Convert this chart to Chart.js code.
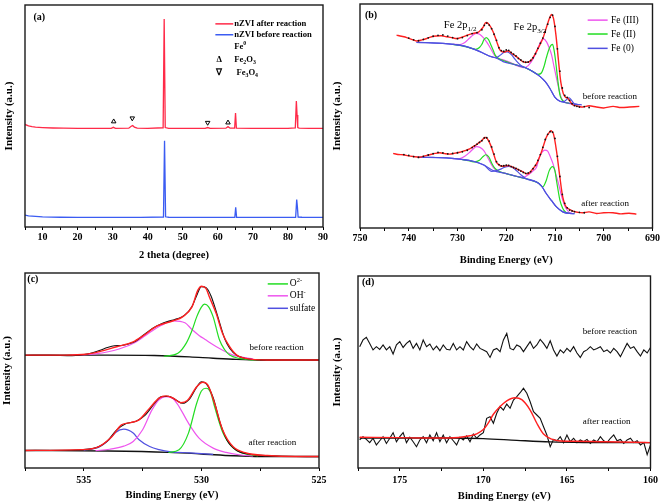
<!DOCTYPE html>
<html><head><meta charset="utf-8">
<script src="https://cdn.jsdelivr.net/npm/chart.js@4.4.1/dist/chart.umd.min.js"></script>
<style>
html,body{margin:0;padding:0;background:#fff;}
#wrap{position:relative;width:661px;height:503px;overflow:hidden;background:#fff;}
#wrap canvas{position:absolute;}
</style></head><body>
<div id="wrap">
<canvas id="ca" width="330" height="266" style="left:0;top:0"></canvas>
<canvas id="cb" width="331" height="270" style="left:330px;top:0"></canvas>
<canvas id="cc" width="330" height="253" style="left:0;top:250px"></canvas>
<canvas id="cd" width="331" height="253" style="left:330px;top:250px"></canvas>
</div>
<script>
// ---------- (a) XRD ----------
const xrdAfterTheta = [5,6,7,8,10,13,16,20,25,29.6,30.2,30.8,34.6,35.3,35.7,36.2,37,40,44.4,44.7,45.0,46,50,56.4,57.1,57.8,62.3,62.9,63.5,64.8,65.05,65.3,70,75,80,82.1,82.4,82.6,82.8,83.2,86,90];
const xrdAfterI = [46.2,45.6,45.2,45.0,44.8,44.6,44.5,44.4,44.4,44.4,44.9,44.4,44.5,45.4,45.7,45.0,44.5,44.4,44.7,93.7,44.8,44.4,44.4,44.4,44.8,44.4,44.5,45.2,44.5,44.5,51.3,44.5,44.4,44.4,44.4,44.6,56.7,50.5,44.8,44.5,44.4,44.4];
const xrdBeforeTheta = [5,6,8,10,15,20,30,38,44.5,44.8,45.1,46,55,64.85,65.1,65.35,70,82.2,82.5,82.7,82.9,84,90];
const xrdBeforeI = [5.4,5.0,4.8,4.6,4.4,4.35,4.35,4.3,4.5,38.8,4.6,4.4,4.35,4.4,8.9,4.4,4.35,4.4,12.4,9.0,4.5,4.4,4.3];
const xrdMarkTheta = [30.3,35.6,57.1,62.9];
const xrdMarkI = [47.5,49.0,47.0,47.0];
const xrdMarkPhase = ['Fe2O3','Fe3O4','Fe3O4','Fe2O3'];
const xrdTickLabels = [10,20,30,40,50,60,70,80,90];

// ---------- (b) Fe 2p ----------
const feBefFitE = [742.5,741.5,740.4,739.4,738.4,737.3,736.3,735.3,734.3,733.3,732.3,731.2,730.2,729.5,728.8,727.8,726.8,725.8,725.2,724.7,724.2,723.5,722.7,722.0,721.3,720.6,719.6,718.9,717.9,716.6,715.5,714.8,713.8,712.5,711.4,710.75,710.3,709.8,709.3,708.8,708.3,707.8,707.4,707.0,706.3,705.3,704.3,703.0,701.5,700.0,698.1,696.5,694.7,692.7];
const feBefFitI = [86.1,85.6,85.0,84.2,83.5,84.0,84.6,85.4,85.7,85.8,85.4,85.0,84.6,84.9,85.4,86.2,86.9,87.3,88.5,89.8,91.7,90.8,87.6,83.5,79.5,78.5,79.1,78.0,76.5,74.3,74.0,75.1,78.8,84.6,92.0,95.3,93.5,86.0,75.0,65.0,60.0,58.3,58.0,56.8,54.9,54.4,54.0,54.6,54.0,53.6,54.3,53.8,54.0,54.3];
const feBefDataE = [740,739,738,737,736,735,734,733,732,731,730,729,728,727,726,725,724.5,724,723.5,723,722.5,722,721.5,721,720.5,720,719.5,719,718.5,718,717.5,717,716.5,716,715.5,715,714.5,714,713.5,713,712.5,712,711.5,711,710.5,710,709.5,709,708.5,708,707.5,707,706.5,706,705.5,705,704,703];
const feBefDataI = [84.8,84.0,83.6,84.2,84.9,85.6,86.0,86.2,85.7,85.0,84.5,85.0,85.9,86.8,87.2,88.5,90.5,91.5,90.6,89.0,86.5,83.8,80.5,79.2,78.9,79.5,79.3,78.4,77.6,76.8,75.7,75.0,74.3,74.0,74.1,74.8,76.0,77.8,80.2,82.5,84.8,87.5,91.0,94.0,95.0,90.0,80.0,70.0,62.5,59.2,58.3,57.0,55.5,54.6,54.3,54.0,54.2,53.8];
const feBefBgE = [738.4,736,733,730.9,729,727.5,726,724.7,723.5,722,720.65,718,715.9,714.5,713.1,712,711.1,710,709,707.7,705.6,704.5];
const feBefBgI = [82.9,82.7,82.4,82.0,81.4,80.5,79.3,78.0,76.8,75.8,74.3,72.8,71.4,69.8,67.7,65.3,62.5,58.3,56.6,55.9,55.2,55.0];
const feBefFe0E = [738.4,733,729,726,723.5,722.2,721.2,720.4,719.8,719.0,718.0,717.0,715.9,714.5,713.1,712,711.1,710,709,708.2,707.6,707.1,706.6,706.0,705.0];
const feBefFe0I = [82.9,82.4,81.4,79.3,76.8,76.0,77.2,78.5,78.6,77.5,74.8,72.6,71.4,69.8,67.7,65.3,62.5,58.3,56.6,56.4,57.4,58.1,57.0,55.4,55.1];
const feBefFe3E = [731,729.5,728.5,727.6,726.8,726.1,725.4,724.7,724,723.3,722.6,722,721,719,717.5,716.5,715.5,714.5,713.8,713.1,712.4,711.7,711.2,710.7,710.2,709.7,709.2,708.7,708,707,706];
const feBefFe3I = [82.0,81.9,82.8,84.6,86.2,86.9,86.4,85.0,83.0,80.5,77.8,76.0,75.3,73.8,72.2,71.6,72.5,75.5,78.8,82.4,84.4,83.0,80.5,77.3,72.0,66.9,62.0,58.1,56.2,55.5,55.2];
const feBefFe2E = [731,729,727.5,726.3,725.5,725,724.6,724.1,723.6,723.1,722.7,722.3,721.8,720,718,716,714.5,713.5,712.8,712.2,711.8,711.2,710.8,710.5,710.2,709.9,709.4,709,708.6,708,707];
const feBefFe2I = [82.0,81.3,80.4,79.8,80.6,82.0,84.0,85.0,84.0,81.5,79.5,77.3,76.0,74.3,72.8,71.4,69.8,68.6,69.2,72.5,75.8,80.0,81.6,82.0,79.5,75.0,65.5,59.5,57.3,56.1,55.7];

const feAftFitE = [743.2,742.2,741.1,740.1,739.1,737.7,736.7,735.7,734.6,733.6,732.6,731.6,730.5,729.5,728.5,727.5,726.8,726.1,725.6,725.1,724.7,724.4,724.0,723.7,723.2,722.8,722.4,722.0,721.5,721.0,720.3,719.6,718.6,717.9,717.2,716.5,715.9,715.3,714.8,713.8,712.8,711.8,711.1,710.75,710.3,709.7,709.0,708.4,707.7,706.3,705.3,704.3,703.0,701.5,700.0,698.1,696.5,694.8,693.3];
const feAftFitI = [33.3,32.8,32.7,32.2,31.9,31.6,32.2,32.7,33.3,33.6,33.2,33.0,33.4,33.8,34.5,35.3,36.3,37.2,38.1,38.9,39.8,40.4,40.2,39.2,37.0,34.5,31.8,29.3,28.2,27.6,27.7,27.9,27.1,26.5,25.7,25.0,24.2,24.5,25.7,28.6,33.8,40.4,42.9,43.4,41.9,34.5,22.7,13.8,9.4,7.5,7.0,6.8,7.2,6.5,6.8,6.8,6.3,6.6,6.2];
const feAftDataE = [741,740,739,738,737,736,735,734,733,732,731,730,729,728,727,726.5,726,725.5,725,724.5,724,723.5,723,722.5,722,721.5,721,720.5,720,719.5,719,718.5,718,717.5,717,716.5,716,715.5,715,714.5,714,713.5,713,712.5,712,711.5,711,710.5,710,709.5,709,708.5,708,707.5,707,706.5,706,705,704];
const feAftDataI = [32.8,32.4,31.9,31.5,32.0,32.6,33.2,33.8,33.5,33.1,33.3,33.6,34.0,34.7,35.9,36.7,37.4,38.2,39.0,40.2,40.3,38.8,36.2,33.0,29.6,28.3,27.7,27.8,28.1,28.0,27.4,27.0,26.6,26.0,25.4,24.8,24.4,24.6,25.2,26.5,28.0,30.2,32.8,36.0,39.5,41.8,43.0,42.8,40.0,32.0,23.0,15.0,11.0,9.0,8.0,7.6,7.3,7.0,6.8];
const feAftBgE = [738.2,735,732.3,729.5,726.8,724.5,722.7,720,717.9,715.9,713.8,712.8,711.8,710.7,709.7,708.4,707.1,706];
const feAftBgI = [31.6,31.5,31.3,30.7,29.8,28.0,25.7,24.3,23.1,22.0,20.5,18.8,15.4,12.2,9.4,7.2,6.5,6.4];
const feAftFe0E = [738.2,732.3,726.8,724.5,723,722,721,720.3,719.5,718.7,718,717,715.9,713.8,712.8,711.8,710.7,709.7,708.4,707.1,706];
const feAftFe0I = [31.6,31.3,29.8,28.0,25.3,25.6,26.4,27.2,27.5,27.0,25.8,23.8,22.0,20.5,18.8,15.4,12.2,9.4,7.2,6.5,6.4];
const feAftFe3E = [731,729.5,728.5,727.5,726.8,726.1,725.4,724.6,723.8,723,722.3,721.5,720,718,716.5,715.2,714.5,713.8,713.2,712.6,712.1,711.5,711,710.4,709.9,709.3,708.8,708.4,707.8,707.2,706.5];
const feAftFe3I = [30.9,31.0,32.0,33.8,35.3,36.3,36.0,34.5,31.5,28.2,26.2,25.2,24.3,23.1,22.6,24.2,25.5,27.1,31.6,34.0,34.8,34.3,32.0,28.6,24.5,20.0,15.5,12.4,9.0,7.2,6.5];
const feAftFe2E = [729,727.5,726.5,725.5,724.8,724.2,723.6,723,722.4,721.6,720,718,716,714.5,713.5,712.5,711.8,711.2,710.5,710,709.7,709.3,709,708.4,707.8,707];
const feAftFe2I = [30.5,29.9,29.5,30.2,31.8,32.7,31.8,29.0,26.8,25.4,24.3,23.1,22.0,21.0,20.2,18.4,21.2,25.5,27.4,25.5,21.2,16.0,12.4,8.7,7.0,6.5];

// ---------- (c) O 1s ----------
const oBefFitE = [537.5,536.5,535.8,534.9,534.36,533.6,532.9,532.5,531.9,531.2,530.8,530.4,530.15,529.99,529.8,529.66,529.37,529.1,528.8,528.5,528.1,527.2,526,525];
const oBefFitI = [57.9,57.9,57.9,58.3,59.6,62.2,64.7,67.6,72.7,75.5,77.5,82.6,91.2,93.2,92.0,87.7,79.2,69.0,62.2,57.9,56.2,55.4,55.4,55.4];
const oBefDataE = [537.5,536.5,535.5,534.8,534.3,534.0,533.7,533.4,533.1,532.8,532.5,532.2,531.9,531.6,531.3,531.0,530.7,530.4,530.2,530.0,529.8,529.6,529.4,529.2,529.0,528.8,528.5,528.0,527.0,526.0,525.0];
const oBefDataI = [57.7,57.8,57.6,58.6,60.4,61.8,62.7,62.8,63.6,65.0,67.8,70.6,72.8,74.5,75.6,76.6,78.5,82.8,88.5,93.0,92.5,88.5,81.5,73.5,66.0,61.5,57.8,55.9,55.3,55.4,55.3];
const oBefBgE = [537.5,534,532,530.5,529.5,528.5,527.5,525];
const oBefBgI = [57.9,57.9,57.7,57.0,56.3,55.7,55.4,55.4];
const oBefO2E = [531.6,531,530.65,530.4,530.2,530.0,529.87,529.7,529.5,529.23,529.0,528.8,528.4,528,527.5];
const oBefO2I = [57.3,58.8,63.9,70.5,77.5,82.5,84.0,82.8,77.5,65.6,60.5,57.9,56.2,55.6,55.4];
const oBefOHE = [535.5,534.5,533.5,532.8,532.2,531.7,531.2,530.7,530.4,530.1,529.8,529.5,529.23,528.95,528.66,528.3,527.8];
const oBefOHI = [57.9,58.5,61.0,64.5,69.5,73.2,75.5,74.5,71.0,68.0,65.6,63.2,61.3,59.5,57.9,56.9,55.9];

const oAftFitE = [537.5,535.07,534.36,533.8,533.4,533.0,532.65,532.2,531.8,531.5,531.2,530.87,530.6,530.2,529.94,529.73,529.44,529.1,528.66,528.1,527.2,526,525];
const oAftFitI = [9.0,9.4,11.0,16.2,22.1,23.3,24.7,30.7,35.8,37.0,35.8,33.5,34.6,41.7,44.0,42.6,33.2,19.6,11.0,7.7,6.4,5.9,5.9];
const oAftDataE = [537.5,536,535,534.4,534,533.6,533.2,532.8,532.4,532,531.7,531.4,531.1,530.8,530.5,530.2,530.0,529.8,529.5,529.2,528.9,528.5,528,527,526,525];
const oAftDataI = [9.0,9.1,9.5,10.8,13.8,19.5,22.8,23.8,27.0,33.0,36.6,36.8,35.0,33.2,35.5,41.5,44.2,43.3,36.0,23.0,14.0,9.0,7.2,6.3,5.9,5.8];
const oAftBgE = [537.5,534,531.4,530,528.66,527.5,525];
const oAftBgI = [9.0,8.7,8.0,7.2,6.3,5.9,5.9];
const oAftSO4E = [535,534.36,533.93,533.65,533.3,532.9,532.65,532.2,531.8,531.3,530.5,529.5];
const oAftSO4I = [9.2,10.7,14.5,18.2,19.9,17.9,14.5,11.0,9.4,8.3,7.8,7.0];
const oAftOHE = [534.5,533.9,533.3,532.9,532.5,532.1,531.8,531.5,531.2,530.95,530.55,530.1,529.5,528.95,528.4,527.8];
const oAftOHI = [8.9,9.6,11.2,13.6,19.6,29.8,35.0,36.6,35.5,31.5,23.0,15.3,10.2,8.0,6.8,6.2];
const oAftO2E = [531.4,530.95,530.55,530.2,530.0,529.8,529.6,529.44,529.1,528.66,528.2,527.6];
const oAftO2I = [8.0,9.4,17.9,33.2,39.5,40.9,38.5,31.5,18.5,10.5,7.5,6.2];

// ---------- (d) S 2p ----------
const sEnergy = [177.4,177.2,177.0,176.8,176.6,176.4,176.2,176.0,175.8,175.6,175.4,175.2,175.0,174.8,174.6,174.4,174.2,174.0,173.8,173.6,173.4,173.2,173.0,172.8,172.6,172.4,172.2,172.0,171.8,171.6,171.4,171.2,171.0,170.8,170.6,170.4,170.2,170.0,169.8,169.6,169.4,169.2,169.0,168.8,168.6,168.4,168.2,168.0,167.8,167.6,167.4,167.2,167.0,166.8,166.6,166.4,166.2,166.0,165.8,165.6,165.4,165.2,165.0,164.8,164.6,164.4,164.2,164.0,163.8,163.6,163.4,163.2,163.0,162.8,162.6,162.4,162.2,162.0,161.8,161.6,161.4,161.2,161.0,160.8,160.6,160.4,160.2,160.0];
const sBeforeI = [63.2,66.7,68.1,64.9,61.5,63.2,61.8,64.1,61.5,63.2,59.4,64.1,65.8,62.8,64.9,66.3,62.3,64.9,61.5,66.7,63.2,64.6,61.5,63.5,61.1,64.1,61.8,61.5,64.9,61.5,63.2,61.5,65.8,63.2,61.5,64.6,62.3,61.5,60.6,57.6,61.5,62.3,60.6,66.7,70.1,62.3,61.5,64.1,63.2,60.6,63.2,65.8,62.3,64.1,67.0,64.9,62.3,66.3,61.5,58.3,61.5,59.9,62.3,60.6,63.2,59.9,57.6,60.6,61.5,63.2,61.5,62.3,63.2,60.6,61.5,59.9,62.3,60.6,58.0,61.5,64.9,62.3,63.2,60.6,58.3,61.5,59.9,62.8];
const sAfterI = [14.6,16.3,14.9,13.2,15.5,12.0,14.2,16.3,12.8,15.5,18.4,13.7,16.3,18.4,13.2,16.0,13.7,11.1,14.6,16.3,13.2,17.2,14.2,18.4,13.7,17.2,13.2,16.3,14.2,12.0,16.0,14.6,16.7,13.7,17.7,15.5,17.2,18.4,25.9,26.7,23.3,28.5,32.0,30.2,33.3,31.1,35.4,37.2,39.2,41.5,38.9,34.5,29.3,27.6,25.9,21.5,17.2,11.1,14.9,14.2,16.3,13.2,17.2,13.7,15.5,13.2,14.6,13.7,14.9,12.8,14.6,13.7,16.3,14.2,13.2,15.5,17.2,14.2,14.9,12.8,14.6,15.5,13.2,14.2,12.0,13.2,6.9,12.0];
const sFitE = [177.4,175,173,171.5,170.8,170.4,170.0,169.7,169.4,169.0,168.6,168.1,167.7,167.2,166.8,166.4,165.9,165.5,164.5,163,161,160];
const sFitI = [16.0,15.8,15.6,15.9,16.8,17.8,20.0,23.5,28.0,32.0,35.0,36.6,35.6,30.2,23.3,17.7,15.0,14.2,13.9,13.7,13.4,13.2];
const sBgE = [177.4,172,170,168,166,164,160];
const sBgI = [15.6,15.6,15.3,14.4,13.6,13.3,13.2];

// ---------- helpers ----------
const pts = (xs, ys) => xs.map((x, i) => ({x, y: ys[i]}));
const SERIF = '"Liberation Serif", "Times New Roman", serif';
const RED = '#ff2020', RED_A = '#ff2a48', BLUE_A = '#3b5cf2';
const MAG = '#ee55ee', GRN = '#22dd22', BLU = '#5050e0', BLK = '#111111';

function line(data, color, width, extra) {
  return Object.assign({data, borderColor: color, backgroundColor: color, borderWidth: width,
    pointRadius: 0, fill: false, tension: 0}, extra || {});
}
const smooth = {cubicInterpolationMode: 'monotone'};

const framePlugin = {
  id: 'frame',
  afterDatasetsDraw(chart) {
    const {ctx, chartArea: a} = chart;
    ctx.save();
    ctx.strokeStyle = '#1a1a1a';
    ctx.lineWidth = 1.4;
    ctx.strokeRect(a.left, a.top, a.right - a.left, a.bottom - a.top);
    ctx.restore();
  }
};

const annotPlugin = {
  id: 'annot',
  afterDatasetsDraw(chart, args, opts) {
    const {ctx, scales: {x, y}} = chart;
    ctx.save();
    for (const it of (opts.items || [])) {
      const px = x.getPixelForValue(it.x), py = y.getPixelForValue(it.y);
      if (it.x2 !== undefined) {
        const px2 = x.getPixelForValue(it.x2);
        ctx.strokeStyle = it.color; ctx.lineWidth = 1.5;
        ctx.beginPath(); ctx.moveTo(px, py); ctx.lineTo(px2, py); ctx.stroke();
        continue;
      }
      let cx = px;
      ctx.textBaseline = 'middle'; ctx.textAlign = 'left';
      ctx.fillStyle = it.color || '#000';
      for (const p of it.parts) {
        const small = p.sub || p.sup;
        const size = small ? it.size * 0.68 : it.size;
        ctx.font = `${it.weight || 'normal'} ${size}px ${SERIF}`;
        const dy = p.sub ? it.size * 0.35 : (p.sup ? -it.size * 0.35 : 0);
        ctx.fillText(p.t, cx, py + dy);
        cx += ctx.measureText(p.t).width;
      }
    }
    ctx.restore();
  }
};

function makeChart(id, datasets, cfg) {
  return new Chart(document.getElementById(id), {
    type: 'line',
    data: {datasets},
    plugins: [framePlugin, annotPlugin],
    options: {
      responsive: false, animation: false, devicePixelRatio: 1,
      layout: {padding: cfg.pad},
      plugins: {legend: {display: false}, tooltip: {enabled: false}, annot: {items: cfg.items}},
      scales: {
        x: {
          type: 'linear', min: cfg.min, max: cfg.max, reverse: !!cfg.reverse,
          afterFit: s => { s.height = cfg.xh; },
          ticks: {stepSize: cfg.step, autoSkip: false, maxRotation: 0, padding: cfg.tickPad,
            color: '#000', font: {family: SERIF, size: 10, weight: 'bold'},
            callback: v => (cfg.labels.includes(v) ? String(v) : '')},
          grid: {display: true, drawOnChartArea: false, drawTicks: true, tickLength: 3, color: '#000', lineWidth: 1},
          border: {display: false},
          title: {display: true, text: cfg.xtitle, color: '#000',
            font: {family: SERIF, size: 10.5, weight: 'bold'}, padding: {top: 0, bottom: cfg.xtPad}}
        },
        y: {
          type: 'linear', min: 0, max: 100,
          afterFit: s => { s.width = cfg.yw; },
          ticks: {display: false}, grid: {display: false}, border: {display: false},
          title: {display: true, text: 'Intensity (a.u.)', color: '#000',
            font: {family: SERIF, size: 11, weight: 'bold'}, padding: {top: cfg.ytPad, bottom: 0}}
        }
      }
    }
  });
}

// ---------- (a) ----------
makeChart('ca', [
  Object.assign(line(pts(xrdMarkTheta, xrdMarkI), '#000', 1), {
    showLine: false, pointRadius: 2.6, pointStyle: 'triangle', pointBackgroundColor: 'rgba(0,0,0,0)',
    pointBorderColor: '#000', pointBorderWidth: 1,
    pointRotation: xrdMarkPhase.map(p => p === 'Fe3O4' ? 180 : 0)}),
  line(pts(xrdAfterTheta, xrdAfterI), RED_A, 1.3),
  line(pts(xrdBeforeTheta, xrdBeforeI), BLUE_A, 1.3)
], {
  min: 5, max: 90, step: 5, labels: xrdTickLabels, xtitle: '2 theta (degree)',
  pad: {top: 3, right: 7, left: 0, bottom: 0}, xh: 39, yw: 25, tickPad: 1, xtPad: 4.7, ytPad: 2.4,
  items: [
    {x: 7.4, y: 94.6, size: 10, weight: 'bold', parts: [{t: '(a)'}]},
    {x: 59.3, x2: 64.4, y: 91.5, color: RED_A},
    {x: 64.7, y: 91.5, size: 8.6, weight: 'bold', parts: [{t: 'nZVI after reaction'}]},
    {x: 59.3, x2: 64.4, y: 86.6, color: BLUE_A},
    {x: 64.7, y: 86.6, size: 8.6, weight: 'bold', parts: [{t: 'nZVI before reaction'}]},
    {x: 64.7, y: 81.3, size: 8.6, weight: 'bold', parts: [{t: 'Fe'}, {t: '0', sup: true}]},
    {x: 59.6, y: 75.4, size: 8.6, weight: 'bold', parts: [{t: 'Δ'}]},
    {x: 64.7, y: 75.4, size: 8.6, weight: 'bold', parts: [{t: 'Fe'}, {t: '2', sub: true}, {t: 'O'}, {t: '3', sub: true}]},
    {x: 59.6, y: 69.6, size: 8.6, weight: 'bold', parts: [{t: '∇'}]},
    {x: 65.3, y: 69.6, size: 8.6, weight: 'bold', parts: [{t: 'Fe'}, {t: '3', sub: true}, {t: 'O'}, {t: '4', sub: true}]}
  ]
});

// ---------- (b) ----------
const dots = {showLine: false, pointRadius: 0.9, pointBackgroundColor: BLK, pointBorderWidth: 0};
makeChart('cb', [
  line(pts(feBefDataE, feBefDataI), BLK, 1, dots),
  line(pts(feAftDataE, feAftDataI), BLK, 1, dots),
  line(pts(feBefFitE, feBefFitI), RED, 1.4, {tension: 0.3}),
  line(pts(feAftFitE, feAftFitI), RED, 1.4, {tension: 0.3}),
  line(pts(feBefFe0E, feBefFe0I), BLU, 1.2, smooth),
  line(pts(feAftFe0E, feAftFe0I), BLU, 1.2, smooth),
  line(pts(feBefBgE, feBefBgI), BLU, 1.2, smooth),
  line(pts(feAftBgE, feAftBgI), BLU, 1.2, smooth),
  line(pts(feBefFe2E, feBefFe2I), GRN, 1.2, smooth),
  line(pts(feAftFe2E, feAftFe2I), GRN, 1.2, smooth),
  line(pts(feBefFe3E, feBefFe3I), MAG, 1.2, smooth),
  line(pts(feAftFe3E, feAftFe3I), MAG, 1.2, smooth)
], {
  min: 690, max: 750, step: 5, reverse: true, labels: [690,700,710,720,730,740,750], xtitle: 'Binding Energy (eV)',
  pad: {top: 2, right: 8, left: 0, bottom: 0}, xh: 42, yw: 30, tickPad: 1, xtPad: 3.7, ytPad: 1,
  items: [
    {x: 749.0, y: 94.7, size: 10, weight: 'bold', parts: [{t: '(b)'}]},
    {x: 732.8, y: 90.5, size: 10.5, parts: [{t: 'Fe 2p'}, {t: '1/2', sub: true}]},
    {x: 718.5, y: 89.5, size: 10.5, parts: [{t: 'Fe 2p'}, {t: '3/2', sub: true}]},
    {x: 703.3, x2: 699.2, y: 92.8, color: MAG},
    {x: 698.5, y: 92.8, size: 9.5, parts: [{t: 'Fe (III)'}]},
    {x: 703.3, x2: 699.2, y: 86.6, color: GRN},
    {x: 698.5, y: 86.6, size: 9.5, parts: [{t: 'Fe (II)'}]},
    {x: 703.3, x2: 699.2, y: 80.2, color: BLU},
    {x: 698.5, y: 80.2, size: 9.5, parts: [{t: 'Fe (0)'}]},
    {x: 704.3, y: 58.8, size: 9, parts: [{t: 'before reaction'}]},
    {x: 704.6, y: 10.9, size: 9, parts: [{t: 'after reaction'}]}
  ]
});

// ---------- (c) ----------
makeChart('cc', [
  line(pts(oBefFitE, oBefFitI), RED, 1.4, smooth),
  line(pts(oAftFitE, oAftFitI), RED, 1.4, smooth),
  line(pts(oBefDataE, oBefDataI), BLK, 1.1, smooth),
  line(pts(oAftDataE, oAftDataI), BLK, 1.1, smooth),
  line(pts(oBefO2E, oBefO2I), GRN, 1.2, smooth),
  line(pts(oAftO2E, oAftO2I), GRN, 1.2, smooth),
  line(pts(oBefOHE, oBefOHI), MAG, 1.2, smooth),
  line(pts(oAftOHE, oAftOHI), MAG, 1.2, smooth),
  line(pts(oAftSO4E, oAftSO4I), BLU, 1.2, smooth),
  line(pts(oBefBgE, oBefBgI), BLK, 1.4, smooth),
  line(pts(oAftBgE, oAftBgI), BLK, 1.4, smooth)
], {
  min: 525, max: 537.5, step: 2.5, reverse: true, labels: [525,530,535], xtitle: 'Binding Energy (eV)',
  pad: {top: 23, right: 11, left: 0, bottom: 0}, xh: 35, yw: 25, tickPad: 3, xtPad: 1.7, ytPad: 0.4,
  items: [
    {x: 537.4, y: 96.6, size: 10, weight: 'bold', parts: [{t: '(c)'}]},
    {x: 527.18, x2: 526.32, y: 94.4, color: GRN},
    {x: 526.24, y: 94.4, size: 9.5, parts: [{t: 'O'}, {t: '2-', sup: true}]},
    {x: 527.18, x2: 526.32, y: 88.3, color: MAG},
    {x: 526.24, y: 88.3, size: 9.5, parts: [{t: 'OH'}, {t: '-', sup: true}]},
    {x: 527.18, x2: 526.32, y: 81.9, color: BLU},
    {x: 526.24, y: 81.9, size: 9.5, parts: [{t: 'sulfate'}]},
    {x: 527.95, y: 61.5, size: 9, parts: [{t: 'before reaction'}]},
    {x: 528.0, y: 12.9, size: 9, parts: [{t: 'after reaction'}]}
  ]
});

// ---------- (d) ----------
makeChart('cd', [
  line(pts(sFitE, sFitI), RED, 1.4, smooth),
  line(pts(sEnergy, sBeforeI), BLK, 1.1),
  line(pts(sEnergy, sAfterI), BLK, 1.1),
  line(pts(sBgE, sBgI), BLK, 1.4, smooth)
], {
  min: 160, max: 177.5, step: 2.5, reverse: true, labels: [160,165,170,175], xtitle: 'Binding Energy (eV)',
  pad: {top: 26, right: 10, left: 0, bottom: 0}, xh: 35, yw: 28, tickPad: 3, xtPad: 0, ytPad: 0.4,
  items: [
    {x: 177.26, y: 96.4, size: 10, weight: 'bold', parts: [{t: '(d)'}]},
    {x: 164.05, y: 70.8, size: 9, parts: [{t: 'before reaction'}]},
    {x: 164.05, y: 24.0, size: 9, parts: [{t: 'after reaction'}]}
  ]
});
</script>
</body></html>
